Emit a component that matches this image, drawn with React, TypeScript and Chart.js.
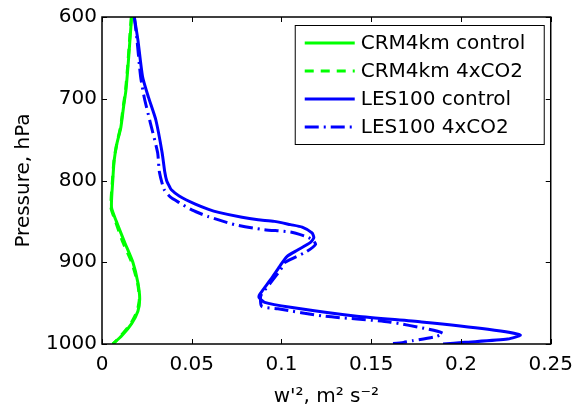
import React, { useEffect, useRef } from "react";
import { Chart, registerables } from "chart.js";

Chart.register(...registerables);

// Pressure levels (hPa) and w'^2 values (m^2 s^-2) for each series
const crmControlP = [600, 630, 660, 690, 710, 735, 755, 775, 800, 833, 850, 875, 900, 925, 945, 960, 975, 990, 1000];
const crmControlW = [0.0165, 0.0155, 0.0145, 0.0133, 0.012, 0.0105, 0.0083, 0.0068, 0.006, 0.0053, 0.008, 0.0125, 0.0172, 0.02, 0.021, 0.02, 0.0165, 0.011, 0.006];

const crm4xP = [600, 630, 660, 690, 710, 735, 755, 775, 800, 833, 850, 875, 900, 925, 945, 960, 975, 990, 1000];
const crm4xW = [0.0163, 0.0153, 0.0143, 0.0131, 0.0118, 0.0103, 0.0082, 0.0067, 0.0058, 0.005, 0.0075, 0.0115, 0.0165, 0.0198, 0.0208, 0.0195, 0.016, 0.0105, 0.006];

const lesControlP = [600, 628, 673, 699, 726, 766, 790, 800, 807, 811, 819, 829, 835, 839, 845, 848, 850, 854, 857, 864, 870, 876, 885, 893, 905, 921, 939, 943, 949, 955, 966, 973, 982, 989, 994, 998, 1000];
const lesControlW = [0.018, 0.02, 0.0226, 0.026, 0.03, 0.0335, 0.035, 0.036, 0.0375, 0.0385, 0.043, 0.052, 0.059, 0.065, 0.078, 0.087, 0.096, 0.105, 0.1115, 0.117, 0.118, 0.116, 0.109, 0.103, 0.099, 0.094, 0.088, 0.0875, 0.0906, 0.105, 0.142, 0.178, 0.215, 0.233, 0.226, 0.202, 0.19];

const les4xP = [600, 628, 673, 699, 730, 766, 790, 811, 820, 827, 836, 844, 854, 860, 863, 868, 872, 878, 887, 900, 909, 925, 941, 954, 957, 966, 973, 982, 987, 991, 996, 998, 1000];
const les4xW = [0.018, 0.0195, 0.0215, 0.0236, 0.027, 0.031, 0.032, 0.0346, 0.038, 0.043, 0.05, 0.059, 0.074, 0.09, 0.105, 0.113, 0.117, 0.119, 0.114, 0.102, 0.0995, 0.094, 0.0885, 0.089, 0.098, 0.124, 0.16, 0.182, 0.19, 0.186, 0.173, 0.168, 0.16];

const seriesNames = ["CRM4km control", "CRM4km 4xCO2", "LES100 control", "LES100 4xCO2"];

const xTickValues = [0, 0.05, 0.1, 0.15, 0.2, 0.25];
const xTickLabels = ["0", "0.05", "0.1", "0.15", "0.2", "0.25"];
const yTickValues = [600, 700, 800, 900, 1000];
const yTickLabels = ["600", "700", "800", "900", "1000"];

const GREEN = "#00ff00";
const BLUE = "#0000ff";
const FONT = "'DejaVu Sans', 'Liberation Sans', sans-serif";
const dashes: number[][] = [[], [9, 7], [], [14, 5, 2, 5]];
const colors = [GREEN, GREEN, BLUE, BLUE];

function pts(p: number[], w: number[]) {
  return p.map((pp, i) => ({ x: w[i], y: pp }));
}

function labelFor(values: number[], labels: string[], v: number) {
  let best = 0;
  values.forEach((tv, i) => {
    if (Math.abs(tv - v) < Math.abs(values[best] - v)) best = i;
  });
  return labels[best];
}

const framePlugin = {
  id: "frameAndLegend",
  afterDraw(chart: any) {
    const { ctx, chartArea: a, scales } = chart;
    ctx.save();
    ctx.strokeStyle = "#000";
    ctx.lineWidth = 1.5;
    ctx.setLineDash([]);
    ctx.strokeRect(a.left, a.top, a.right - a.left, a.bottom - a.top);
    ctx.lineWidth = 1;
    const tl = 5;
    scales.x.ticks.forEach((t: any) => {
      const px = Math.round(scales.x.getPixelForValue(t.value)) + 0.5;
      ctx.beginPath();
      ctx.moveTo(px, a.bottom);
      ctx.lineTo(px, a.bottom - tl);
      ctx.moveTo(px, a.top);
      ctx.lineTo(px, a.top + tl);
      ctx.stroke();
    });
    scales.y.ticks.forEach((t: any) => {
      const py = Math.round(scales.y.getPixelForValue(t.value)) + 0.5;
      ctx.beginPath();
      ctx.moveTo(a.left, py);
      ctx.lineTo(a.left + tl, py);
      ctx.moveTo(a.right, py);
      ctx.lineTo(a.right - tl, py);
      ctx.stroke();
    });

    // legend
    const bx = a.right - 256;
    const by = a.top + 8;
    const bw = 249;
    const bh = 119;
    ctx.fillStyle = "#fff";
    ctx.fillRect(bx, by, bw, bh);
    ctx.lineWidth = 1;
    ctx.strokeStyle = "#000";
    ctx.strokeRect(bx + 0.5, by + 0.5, bw, bh);
    ctx.font = "20px " + FONT;
    ctx.textBaseline = "middle";
    ctx.textAlign = "left";
    seriesNames.forEach((name, i) => {
      const y = by + 18 + i * 28;
      ctx.beginPath();
      ctx.setLineDash(dashes[i]);
      ctx.strokeStyle = colors[i];
      ctx.lineWidth = 3;
      ctx.moveTo(bx + 10, y);
      ctx.lineTo(bx + 60, y);
      ctx.stroke();
      ctx.setLineDash([]);
      ctx.fillStyle = "#000";
      ctx.fillText(name, bx + 66, y + 1);
    });
    ctx.restore();
  },
};

export default function App() {
  const ref = useRef<HTMLCanvasElement | null>(null);
  useEffect(() => {
    if (!ref.current) return;
    const sets = [
      pts(crmControlP, crmControlW),
      pts(crm4xP, crm4xW),
      pts(lesControlP, lesControlW),
      pts(les4xP, les4xW),
    ];
    const chart = new Chart(ref.current, {
      type: "scatter",
      data: {
        datasets: sets.map((d, i) => ({
          label: seriesNames[i],
          data: d,
          showLine: true,
          borderColor: colors[i],
          backgroundColor: colors[i],
          borderWidth: 3,
          borderDash: dashes[i],
          pointRadius: 0,
          tension: 0.2,
        })),
      },
      options: {
        animation: false,
        responsive: false,
        layout: { padding: { top: 17, right: 25, left: 0, bottom: 0 } },
        plugins: { legend: { display: false }, tooltip: { enabled: false } },
        scales: {
          x: {
            type: "linear",
            min: 0,
            max: 0.25,
            grid: { display: false, drawTicks: false },
            border: { display: false },
            ticks: {
              stepSize: 0.05,
              padding: 9,
              color: "#000",
              font: { family: FONT, size: 20 },
              callback: (v: any) => labelFor(xTickValues, xTickLabels, Number(v)),
              maxRotation: 0,
            },
            title: {
              display: true,
              text: "w'², m² s⁻²",
              color: "#000",
              font: { family: FONT, size: 20 },
              padding: { top: 0, bottom: 5 },
            },
            afterFit: (s: any) => {
              s.height = 70;
            },
          },
          y: {
            type: "linear",
            min: 600,
            max: 1000,
            reverse: true,
            grid: { display: false, drawTicks: false },
            border: { display: false },
            ticks: {
              stepSize: 100,
              padding: 5,
              color: "#000",
              font: { family: FONT, size: 20 },
              callback: (v: any) => labelFor(yTickValues, yTickLabels, Number(v)),
            },
            title: {
              display: true,
              text: "Pressure, hPa",
              color: "#000",
              font: { family: FONT, size: 20 },
              padding: { top: 12, bottom: 0 },
            },
            afterFit: (s: any) => {
              s.width = 102;
            },
          },
        },
      },
      plugins: [framePlugin],
    });
    return () => chart.destroy();
  }, []);
  return (
    <div style={{ position: "fixed", left: 0, top: 0, width: 582, height: 414, background: "#fff" }}>
      <canvas ref={ref} width={582} height={414} style={{ width: 582, height: 414 }} />
    </div>
  );
}
